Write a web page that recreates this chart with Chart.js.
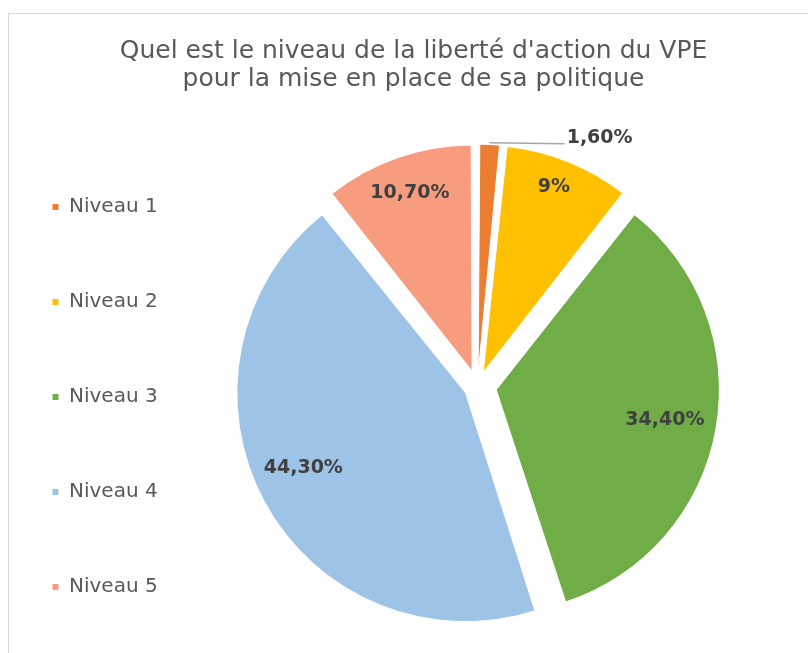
<!DOCTYPE html>
<html>
<head>
<meta charset="utf-8">
<script src="https://cdn.jsdelivr.net/npm/chart.js@4.4.1/dist/chart.umd.min.js"></script>
<style>
  html, body { margin: 0; padding: 0; background: #fff; overflow: hidden; }
  #frame {
    position: absolute; left: 8px; top: 13px; width: 820px; height: 700px;
    border-left: 1px solid #d9d9d9; border-top: 1px solid #d9d9d9;
  }
  #pieChart { display: block; }
</style>
</head>
<body>
<div id="frame"><canvas id="pieChart" width="784" height="700"></canvas></div>
<script>
// Data
const categories = ['Niveau 1', 'Niveau 2', 'Niveau 3', 'Niveau 4', 'Niveau 5'];
const shares = [1.6, 9, 34.4, 44.3, 10.7];

// Style
const sliceColors = ['#ED7D31', '#FFC000', '#70AD47', '#9DC3E6', '#F79C7F'];
const sliceOffsets = [47, 61, 76, 54, 65];             // exploded slices
const labelRadius = [null, 0.97, 0.865, 0.874, 0.932]; // null = outside label with leader line
const labelAngle = [0.5, 0.47, 0.5, 0.52, 0.5];        // position across the slice

const fmt = v => (Number.isInteger(v) ? String(v) : v.toFixed(2).replace('.', ',')) + '%';

// draws the percentages on (or next to) each slice
const sliceLabels = {
    id: 'sliceLabels',
    afterDatasetsDraw(chart) {
        const ctx = chart.ctx;
        const arcs = chart.getDatasetMeta(0).data;
        ctx.save();
        ctx.font = 'bold 19px "DejaVu Sans"';
        ctx.fillStyle = '#404040';
        ctx.textBaseline = 'middle';
        arcs.forEach((arc, i) => {
            const a = arc.startAngle + (arc.endAngle - arc.startAngle) * labelAngle[i];
            const cos = Math.cos(a), sin = Math.sin(a);
            const text = fmt(shares[i]);
            if (labelRadius[i] === null) {
                const r = arc.outerRadius * 1.1;
                const x0 = arc.x + cos * r, y0 = arc.y + sin * r - 2;
                ctx.strokeStyle = '#a6a6a6';
                ctx.lineWidth = 1.5;
                ctx.beginPath();
                ctx.moveTo(x0, y0);
                ctx.lineTo(x0 + 75, y0 + 1);
                ctx.stroke();
                ctx.textAlign = 'left';
                ctx.fillText(text, x0 + 77, y0 - 5);
            } else {
                const r = arc.outerRadius * labelRadius[i];
                ctx.textAlign = 'center';
                ctx.fillText(text, arc.x + cos * r, arc.y + sin * r);
            }
        });
        ctx.restore();
    }
};

Chart.defaults.font.family = '"DejaVu Sans"';

const ctx = document.getElementById('pieChart').getContext('2d');
new Chart(ctx, {
    type: 'pie',
    data: {
        labels: categories,
        datasets: [{
            data: shares,
            backgroundColor: sliceColors,
            borderColor: '#ffffff',
            borderWidth: 1,
            offset: sliceOffsets,
        }],
    },
    options: {
        responsive: false,
        animation: false,
        events: [],
        radius: 220,
        layout: {
            padding: { left: -32, right: -57, top: 0, bottom: 42 },
        },
        plugins: {
            title: {
                display: true,
                text: ["Quel est le niveau de la liberté d'action du VPE", 'pour la mise en place de sa politique'],
                color: '#595959',
                font: { size: 25, weight: 'normal', lineHeight: 28 / 25 },
                padding: { top: 23, bottom: 8 },
            },
            legend: {
                position: 'left',
                align: 'end',
                fullSize: true,
                maxWidth: 185,
                labels: {
                    color: '#595959',
                    font: { size: 20 },
                    boxWidth: 7,
                    boxHeight: 7,
                    padding: 75,
                },
            },
            tooltip: { enabled: false },
        },
    },
    plugins: [sliceLabels],
});
</script>
</body>
</html>
